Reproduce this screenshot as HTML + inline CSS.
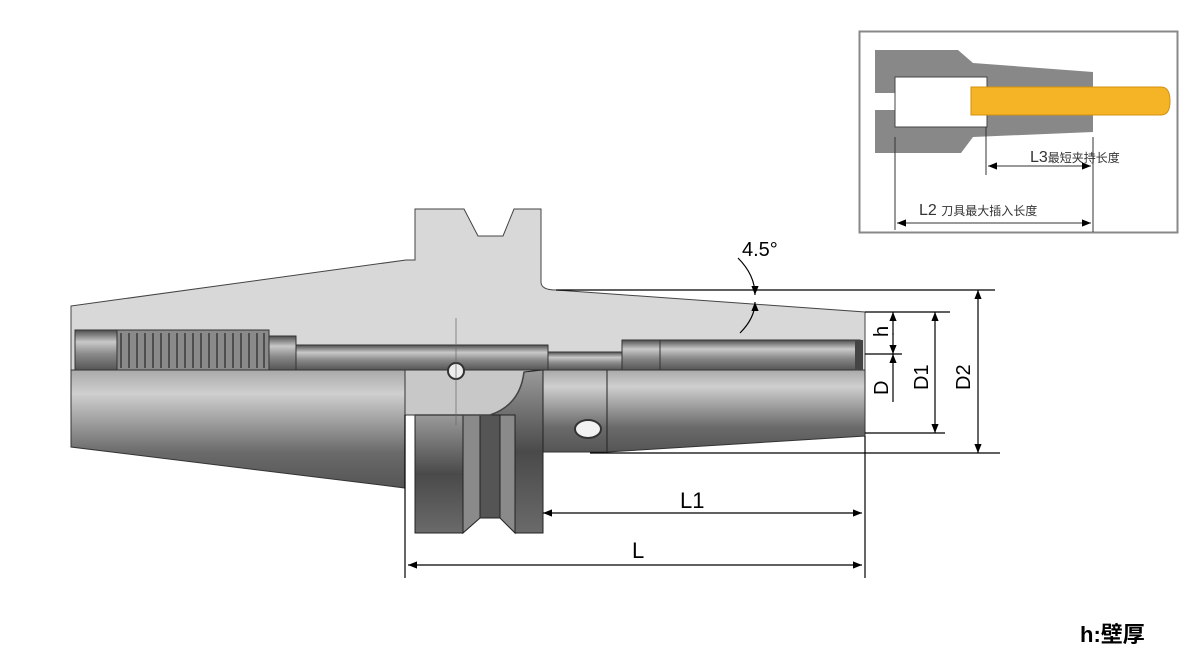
<!DOCTYPE html>
<html><head><meta charset="utf-8"><style>
html,body{margin:0;padding:0;background:#fff;}
svg{display:block;}
text{font-family:"Liberation Sans","Noto Sans CJK SC",sans-serif;}
</style></head><body>
<svg width="1196" height="655" viewBox="0 0 1196 655" xmlns="http://www.w3.org/2000/svg">
<defs>
<linearGradient id="g" x1="0" y1="0" x2="0" y2="1">
<stop offset="0" stop-color="#a9a9a9"/><stop offset="0.2" stop-color="#cfcfcf"/><stop offset="0.7" stop-color="#6a6a6a"/><stop offset="1" stop-color="#555"/>
</linearGradient>
<linearGradient id="gb" x1="0" y1="0" x2="0" y2="1">
<stop offset="0" stop-color="#4e4e4e"/><stop offset="0.3" stop-color="#c9c9c9"/><stop offset="0.6" stop-color="#8a8a8a"/><stop offset="1" stop-color="#555"/>
</linearGradient>
<linearGradient id="gf" x1="0" y1="0" x2="0" y2="1">
<stop offset="0" stop-color="#9a9a9a"/><stop offset="0.5" stop-color="#4a4a4a"/><stop offset="1" stop-color="#6a6a6a"/>
</linearGradient>
<marker id="a" viewBox="0 0 10 10" refX="10" refY="5" markerWidth="9" markerHeight="9" orient="auto-start-reverse" markerUnits="userSpaceOnUse"><path d="M0,1 L10,5 L0,9 z" fill="#000"/></marker>
</defs>

<path d="M71,306 L406,260 L415,260 L415,209 L464,209 L478,236 L503,236 L514,209 L541,209 L541,282 Q541,290 556,290 L865,312 L865,370 L71,370 Z" fill="#d8d8d8" stroke="#444" stroke-width="1"/>
<path d="M71,370 L405,370 L405,488 L71,447 Z" fill="url(#g)" stroke="#333" stroke-width="1"/>
<path d="M543,370 L865,370 L865,436 L607,452 L543,452 Z" fill="url(#g)" stroke="#333" stroke-width="1"/>
<line x1="607" y1="370" x2="607" y2="452" stroke="#222"/>
<rect x="405" y="370" width="138" height="45" fill="#c8c8c8" stroke="#333"/>
<path d="M415,415 L463,415 L463,533 L415,533 Z" fill="url(#gf)" stroke="#222"/>
<path d="M463,415 L480,415 L480,518 L463,533 Z" fill="#8a8a8a" stroke="#222"/>
<path d="M480,415 L500,415 L500,518 L480,518 Z" fill="#555" stroke="#222"/>
<path d="M500,415 L515,415 L515,533 L500,518 Z" fill="#8a8a8a" stroke="#222"/>
<path d="M515,415 L490,415 Q520,405 524,372 L543,370 L543,533 L515,533 Z" fill="url(#gf)" stroke="#222"/>
<path d="M415,415 L490,415 Q520,405 524,372" fill="none" stroke="#444" stroke-width="1.5"/>
<rect x="75" y="330" width="45" height="40" fill="url(#gb)" stroke="#333"/>
<rect x="117" y="330" width="152" height="40" fill="#8a8a8a" stroke="#333"/>
<g stroke="#3a3a3a" stroke-width="1.5">
<line x1="121" y1="333" x2="121" y2="368"/><line x1="129" y1="333" x2="129" y2="368"/><line x1="137" y1="333" x2="137" y2="368"/><line x1="145" y1="333" x2="145" y2="368"/><line x1="153" y1="333" x2="153" y2="368"/><line x1="161" y1="333" x2="161" y2="368"/><line x1="169" y1="333" x2="169" y2="368"/><line x1="177" y1="333" x2="177" y2="368"/><line x1="185" y1="333" x2="185" y2="368"/><line x1="193" y1="333" x2="193" y2="368"/><line x1="201" y1="333" x2="201" y2="368"/><line x1="209" y1="333" x2="209" y2="368"/><line x1="217" y1="333" x2="217" y2="368"/><line x1="225" y1="333" x2="225" y2="368"/><line x1="233" y1="333" x2="233" y2="368"/><line x1="241" y1="333" x2="241" y2="368"/><line x1="249" y1="333" x2="249" y2="368"/><line x1="257" y1="333" x2="257" y2="368"/><line x1="264" y1="333" x2="264" y2="368"/>
</g>
<rect x="269" y="336" width="27" height="34" fill="url(#gb)" stroke="#333"/>
<rect x="296" y="345" width="252" height="25" fill="url(#gb)" stroke="#333"/>
<rect x="548" y="352" width="74" height="18" fill="url(#gb)" stroke="#333"/>
<rect x="622" y="340" width="238" height="30" fill="url(#gb)" stroke="#333"/>
<line x1="660" y1="340" x2="660" y2="370" stroke="#333"/>
<rect x="855" y="340" width="8" height="30" fill="#444"/>
<circle cx="456" cy="371" r="8" fill="#eee" stroke="#333" stroke-width="2"/>
<ellipse cx="588" cy="429" rx="13" ry="9" fill="#f2f2f2" stroke="#333" stroke-width="2"/>
<line x1="456" y1="318" x2="456" y2="425" stroke="#666" stroke-width="0.7"/>

<g stroke="#000" stroke-width="1.2" fill="none">
<line x1="405" y1="415" x2="405" y2="578"/>
<line x1="865" y1="436" x2="865" y2="578"/>
<line x1="543" y1="513" x2="862" y2="513" marker-start="url(#a)" marker-end="url(#a)"/>
<line x1="408" y1="565" x2="862" y2="565" marker-start="url(#a)" marker-end="url(#a)"/>
<line x1="556" y1="290" x2="995" y2="290"/>
<line x1="865" y1="312" x2="950" y2="312"/>
<line x1="865" y1="354" x2="902" y2="354"/>
<line x1="865" y1="433" x2="945" y2="433"/>
<line x1="590" y1="453" x2="1000" y2="453"/>
<line x1="893" y1="312" x2="893" y2="335" marker-start="url(#a)"/>
<line x1="893" y1="333" x2="893" y2="354" marker-end="url(#a)"/>
<line x1="893" y1="354" x2="893" y2="402" marker-start="url(#a)"/>
<line x1="935" y1="312" x2="935" y2="433" marker-start="url(#a)" marker-end="url(#a)"/>
<line x1="978" y1="290" x2="978" y2="453" marker-start="url(#a)" marker-end="url(#a)"/>
<path d="M738,258 Q755,275 755,295" marker-end="url(#a)"/>
<path d="M740,333 Q755,318 755,302" marker-end="url(#a)"/>
</g>
<text x="742" y="256" font-size="20">4.5°</text>
<text x="680" y="508" font-size="22">L1</text>
<text x="632" y="558" font-size="22">L</text>
<text transform="translate(888,337) rotate(-90)" font-size="20">h</text>
<text transform="translate(888,395) rotate(-90)" font-size="20">D</text>
<text transform="translate(928,390) rotate(-90)" font-size="20">D1</text>
<text transform="translate(970,390) rotate(-90)" font-size="20">D2</text>
<text x="1080" y="642" font-size="22" font-weight="bold">h:壁厚</text>

<rect x="859.5" y="31.5" width="318" height="201" fill="#fff" stroke="#888" stroke-width="2"/>
<path d="M875,50 L958,50 L973,63 L1093,72 L1093,132 L973,137 L961,153 L875,153 Z" fill="#888"/>
<rect x="875" y="93" width="21" height="17" fill="#fff"/>
<rect x="895" y="77" width="92" height="50" fill="#fff" stroke="#444"/>
<path d="M971,87 L1161,87 Q1170,87 1170,101 Q1170,115 1161,115 L971,115 Z" fill="#f4b426" stroke="#d49010"/>
<g stroke="#333" stroke-width="1" fill="none">
<line x1="986" y1="127" x2="986" y2="175"/>
<line x1="1093" y1="137" x2="1093" y2="232"/>
<line x1="895" y1="137" x2="895" y2="230"/>
<line x1="988" y1="166" x2="1091" y2="166" marker-start="url(#a)" marker-end="url(#a)"/>
<line x1="897" y1="223" x2="1091" y2="223" marker-start="url(#a)" marker-end="url(#a)"/>
</g>
<text x="1030" y="162" font-size="16" fill="#333">L3<tspan font-size="12">最短夹持长度</tspan></text>
<text x="919" y="215" font-size="16" fill="#333">L2 <tspan font-size="12">刀具最大插入长度</tspan></text>
</svg>
</body></html>
